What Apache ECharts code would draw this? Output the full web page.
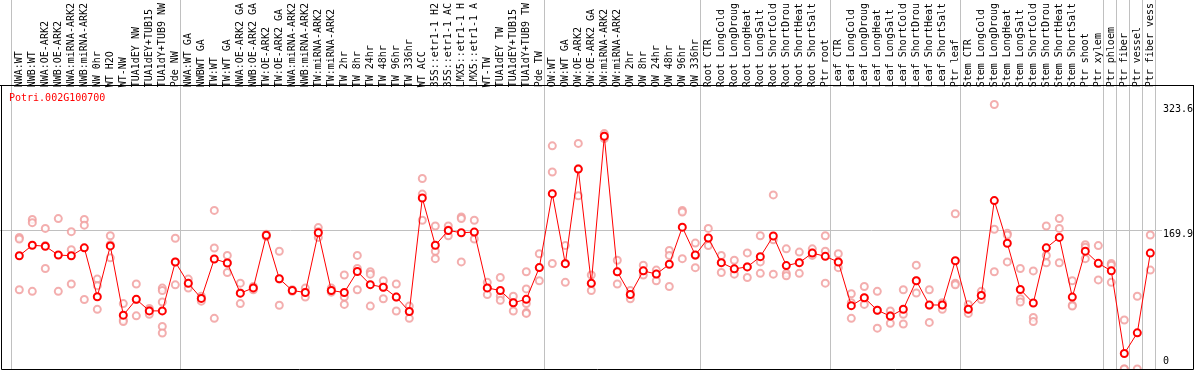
<!DOCTYPE html>
<html><head><meta charset="utf-8">
<script src="https://cdn.jsdelivr.net/npm/echarts@6/dist/echarts.min.js"></script>
<style>html,body{margin:0;padding:0;background:#fff}#c{width:1194px;height:370px}</style>
</head><body><div id="c"></div>
<script>
const geneId = 'Potri.002G100700';
const categories = [
 'NWA:WT','NWB:WT','NWA:OE-ARK2','NWB:OE-ARK2','NWA:miRNA-ARK2','NWB:miRNA-ARK2','NW 0hr','WT H2O','WT-NW','TUA1dEY NW','TUA1dEY+TUB15','TUA1dY+TUB9 NW','Pde NW',
 'NWA:WT GA','NWBWT GA','TW:WT','TW:WT GA','NWA:OE-ARK2 GA','NWB:OE-ARK2 GA','TW:OE-ARK2','TW:OE-ARK2 GA','NWA:miRNA-ARK2','NWB:miRNA-ARK2','TW:miRNA-ARK2','TW:miRNA-ARK2',
 'TW 2hr','TW 8hr','TW 24hr','TW 48hr','TW 96hr','TW 336hr','WT ACC','35S::etr1-1 H2','35S::etr1-1 AC','LMX5::etr1-1 H','LMX5::etr1-1 A','WT-TW','TUA1dEY TW','TUA1dEY+TUB15','TUA1dY+TUB9 TW','Pde TW',
 'OW:WT','OW:WT GA','OW:OE-ARK2','OW:OE-ARK2 GA','OW:miRNA-ARK2','OW:miRNA-ARK2','OW 2hr','OW 8hr','OW 24hr','OW 48hr','OW 96hr','OW 336hr',
 'Root CTR','Root LongCold','Root LongDroug','Root LongHeat','Root LongSalt','Root ShortCold','Root ShortDrou','Root ShortHeat','Root ShortSalt','Ptr root',
 'Leaf CTR','Leaf LongCold','Leaf LongDroug','Leaf LongHeat','Leaf LongSalt','Leaf ShortCold','Leaf ShortDrou','Leaf ShortHeat','Leaf ShortSalt','Ptr leaf',
 'Stem CTR','Stem LongCold','Stem LongDroug','Stem LongHeat','Stem LongSalt','Stem ShortCold','Stem ShortDrou','Stem ShortHeat','Stem ShortSalt',
 'Ptr shoot','Ptr xylem','Ptr phloem','Ptr fiber','Ptr vessel','Ptr fiber vess'
];
const means = [
 138.6,151.4,150.2,139.4,138.6,148.2,88.4,150.6,65.9,85.2,71.1,71.1,130.9,
 104.8,86.4,134.6,129.7,92.8,99.2,163.5,110.4,96.0,93.6,166.7,96.0,
 93.6,119.3,103.2,100.0,88.0,70.3,209.2,151.4,169.5,166.7,167.5,99.2,96.0,81.1,85.2,124.1,
 214.5,128.9,244.6,104.8,284.7,118.9,91.2,120.1,116.1,128.1,173.5,139.4,
 160.2,130.1,122.5,124.9,137.4,162.7,126.5,130.1,141.8,137.8,
 130.9,77.5,87.2,71.9,64.7,73.1,108.0,78.3,78.3,132.5,
 73.1,90.0,206.0,153.8,97.2,80.7,148.2,161.0,88.0,
 144.2,129.3,120.1,18.9,44.2,141.8
];
const replicates = [
 [161,159,97],[183,179,95],[172,151,123],[184,95],[168,146,104],[183,176,85],[110,102,73],[163,152,136],[80,60,58],[104,85,65],[74,72,67],[99,96,82,52,44],[160,131,103],
 [110,105,99],[89,86,83],[194,148,62],[139,130,118],[105,93,80],[101,99,97],[165,163,162],[144,110,78],[97,96,95],[99,94,88],[173,168,161],[99,96,94],
 [115,88,79],[139,123,97],[119,116,77],[108,100,86],[104,88,71],[77,70,62],[233,214,182],[175,144,135],[175,170,163],[186,184,131],[182,167,159],[106,99,91],[112,89,84],[89,81,71],[119,98,80,69,68],[141,124,108],
 [273,241,129],[151,129,106],[276,245,212],[115,105,96],[288,285,282],[133,119,104],[96,91,86],[127,120,115],[121,116,108],[145,139,101],[194,192,135],[154,139,124],
 [172,160,151],[139,130,118],[133,122,116],[142,125,112],[163,131,117],[213,158,116],[147,117,114],[143,130,117],[147,142,139],[163,144,105],
 [141,131,124],[92,81,62],[101,87,79],[95,72,50],[71,65,56],[97,67,55],[127,108,93],[97,78,57],[81,78,73],[190,105,103],
 [79,73,68],[95,90,85],[323.6,171,119],[166,164,131],[123,86,82],[120,63,58],[175,139,130],[184,172,130],[108,78,77],
 [152,149,135],[151,129,109],[129,127,106],[60,0,0],[89,0],[164,121]
];
const yTickLabels = ['0','169.9','323.6'];
const yTickValues = [0,169.9,323.6];
const groupStarts = [0,13,41,53,63,73,84,85,86,87,88];

const FONT = '"DejaVu Sans Mono", monospace';
const chart = echarts.init(document.getElementById('c'), null, {renderer:'canvas'});
const repData = [];
replicates.forEach((arr,i)=>arr.forEach(v=>repData.push([i,v])));
chart.setOption({
  animation:false,
  backgroundColor:'#ffffff',
  grid:{left:12.8, right:37.2, top:85, bottom:1, containLabel:false},
  xAxis:{type:'category', data:categories, position:'top', boundaryGap:true,
    axisLine:{show:false}, axisTick:{show:false}, splitLine:{show:false},
    axisLabel:{interval:0, rotate:90, margin:2, fontFamily:FONT, fontSize:10, color:'#000'}},
  yAxis:{type:'value', min:0, max:342.2, show:false, splitLine:{show:false}},
  series:[
    {type:'scatter', data:repData, symbol:'emptyCircle', symbolSize:7, silent:true, z:2,
      itemStyle:{color:'#f09a9a', borderWidth:1}},
    {type:'line', data:means, symbol:'emptyCircle', symbolSize:7, showAllSymbol:true, z:3, silent:true,
      lineStyle:{color:'#ff0000', width:1},
      itemStyle:{color:'#ff0000', borderWidth:2}}
  ]
});
const px = i => chart.convertToPixel({xAxisIndex:0}, i);
const py = v => chart.convertToPixel({yAxisIndex:0}, v);
const n = categories.length;
const x0 = px(0), xn = px(n-1), w = (xn-x0)/(n-1);
const g = [];
groupStarts.forEach(k=>{
  const x = Math.round(x0 + (k-0.62)*w)+0.5;
  g.push({type:'line', z:0, silent:true, shape:{x1:x,y1:0,x2:x,y2:370}, style:{stroke:'#c0c0c0', lineWidth:1}});
});
const yg = Math.round(py(169.9))+0.5;
g.push({type:'line', z:0, silent:true, shape:{x1:0,y1:yg,x2:1162,y2:yg}, style:{stroke:'#c0c0c0', lineWidth:1}});
g.push({type:'rect', z:10, silent:true, shape:{x:1.5,y:85.5,width:1192,height:284}, style:{fill:null, stroke:'#000', lineWidth:1}});
g.push({type:'line', z:10, silent:true, shape:{x1:0,y1:85.5,x2:1194,y2:85.5}, style:{stroke:'#000', lineWidth:1}});
g.push({type:'text', z:10, silent:true, x:9, y:93, style:{text:geneId, fill:'#ff0000', font:'10px '+FONT, textVerticalAlign:'top'}});
yTickValues.forEach((v,i)=>{
  const p = py(v);
  if (v === 0) {
    g.push({type:'text', z:10, silent:true, x:1163, y:p-3, style:{text:yTickLabels[i], fill:'#000', font:'10px '+FONT, textVerticalAlign:'bottom'}});
  } else {
    g.push({type:'text', z:10, silent:true, x:1163, y:p + (i===2?0:-0.5), style:{text:yTickLabels[i], fill:'#000', font:'10px '+FONT, textVerticalAlign:'top'}});
  }
});
chart.setOption({graphic:g});
</script>
</body></html>
